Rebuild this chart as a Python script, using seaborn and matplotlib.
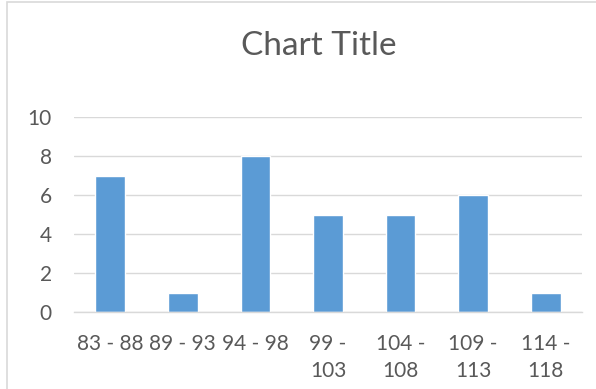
import matplotlib
matplotlib.use("Agg")
import matplotlib.pyplot as plt
import seaborn as sns
import pandas as pd
from matplotlib.patches import Rectangle

categories = ["83 - 88", "89 - 93", "94 - 98", "99 -\n103", "104 -\n108", "109 -\n113", "114 -\n118"]
values = [7, 1, 8, 5, 5, 6, 1]
yticks = [0, 2, 4, 6, 8, 10]

sns.set_theme(style="white")
plt.rcParams['font.family'] = ['Lato', 'DejaVu Sans']

df = pd.DataFrame({"bin": categories, "count": values})

fig = plt.figure(figsize=(5.96, 3.89), dpi=100)
ax = fig.add_axes([74/596, 1-312/389, (582-74)/596, (312-117)/389])

sns.barplot(data=df, x="bin", y="count", color="#5B9BD5", saturation=1, width=0.41, ax=ax)

ax.set_ylim(0, 10)
ax.set_xlim(-0.5, len(categories)-0.5)
ax.set_yticks(yticks)
ax.set_yticklabels([str(t) for t in yticks])
ax.set_xlabel("")
ax.set_ylabel("")
ax.yaxis.grid(True, color="#D9D9D9", linewidth=1)
ax.set_axisbelow(True)
for s in ["top", "right", "left"]:
    ax.spines[s].set_visible(False)
ax.spines["bottom"].set_color("#D9D9D9")
ax.spines["bottom"].set_linewidth(1)
ax.tick_params(axis="both", length=0, colors="#595959", labelsize=15)
ax.tick_params(axis="y", pad=16)
ax.tick_params(axis="x", pad=16)
for lbl in ax.get_xticklabels():
    lbl.set_linespacing(1.45)
    lbl.set_verticalalignment("top")

fig.text(319/596, 1-46/389, "Chart Title", ha="center", va="center", fontsize=24, color="#595959")

fig.patches.append(Rectangle((7/596, -0.05), 1.1, 1-2/389+0.05, transform=fig.transFigure,
                             fill=False, edgecolor="#D9D9D9", linewidth=1.2))

fig.savefig("out.png", dpi=100)
